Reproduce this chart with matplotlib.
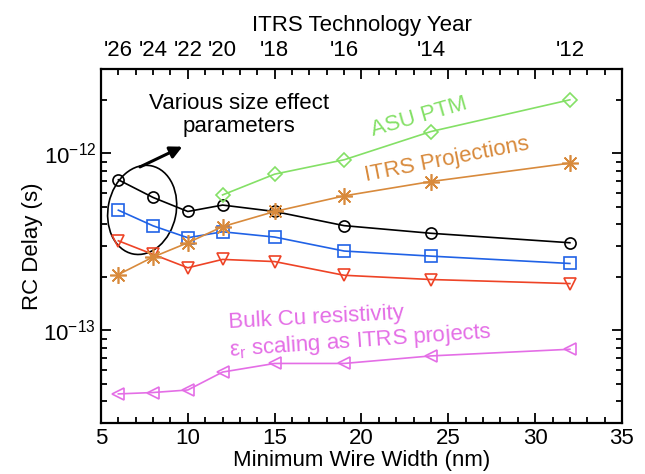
import numpy as np
import matplotlib
matplotlib.use("Agg")
import matplotlib.pyplot as plt
from matplotlib.patches import Ellipse
import matplotlib.transforms as mtransforms

plt.rcParams['font.family'] = ['Liberation Sans', 'DejaVu Sans']
plt.rcParams['mathtext.fontset'] = 'custom'
plt.rcParams['mathtext.rm'] = 'Liberation Sans'
plt.rcParams['mathtext.it'] = 'Liberation Sans:italic'

# wire width (nm) and matching ITRS year
width_nm = [6, 8, 10, 12, 15, 19, 24, 32]
year_labels = ["'26", "'24", "'22", "'20", "'18", "'16", "'14", "'12"]

# RC delay (s)
size_eff_hi = [7.10e-13, 5.64e-13, 4.70e-13, 5.11e-13, 4.70e-13, 3.91e-13, 3.54e-13, 3.13e-13]
size_eff_mid = [4.78e-13, 3.90e-13, 3.34e-13, 3.61e-13, 3.37e-13, 2.81e-13, 2.63e-13, 2.39e-13]
size_eff_lo = [3.21e-13, 2.69e-13, 2.26e-13, 2.52e-13, 2.45e-13, 2.05e-13, 1.94e-13, 1.84e-13]
itrs_proj = [2.07e-13, 2.60e-13, 3.13e-13, 3.86e-13, 4.70e-13, 5.76e-13, 6.94e-13, 8.82e-13]
asu_width = [12, 15, 19, 24, 32]
asu_ptm = [5.83e-13, 7.64e-13, 9.21e-13, 1.33e-12, 2.01e-12]
bulk_cu = [4.38e-14, 4.46e-14, 4.61e-14, 5.82e-14, 6.51e-14, 6.51e-14, 7.18e-14, 7.83e-14]

c_blue = '#2062e6'
c_red = '#ee4326'
c_orange = '#d88a3c'
c_green = '#84e066'
c_mag = '#e46ee6'

fig = plt.figure(figsize=(6.45, 4.74), dpi=100)
ax = fig.add_axes([0.1566, 0.1076, 0.8077, 0.7468])

mk = dict(markerfacecolor='none', markersize=8, markeredgewidth=1.2, linewidth=1.2)
ax.plot(width_nm, size_eff_hi, color='black', marker='o', **mk)
ax.plot(width_nm, size_eff_mid, color=c_blue, marker='s', **mk)
ax.plot(width_nm, size_eff_lo, color=c_red, marker='v', **mk)
ax.plot(width_nm, itrs_proj, color=c_orange, marker=(8, 2, 0), linewidth=1.2,
        markersize=12, markeredgewidth=1.2)
ax.plot(asu_width, asu_ptm, color=c_green, marker='D', **{**mk, 'markersize': 7.5})
ax.plot(width_nm, bulk_cu, color=c_mag, marker='<', **mk)

ax.set_yscale('log')
ax.set_xlim(5, 35)
ax.set_ylim(3e-14, 3e-12)
ax.set_xticks([5, 10, 15, 20, 25, 30, 35])
ax.set_xticks(np.arange(5, 36, 1), minor=True)
ax.tick_params(which='both', direction='in', top=True, right=True, labelsize=16, width=1.3)
ax.tick_params(which='major', length=7)
ax.tick_params(which='minor', length=4)
for s in ax.spines.values():
    s.set_linewidth(1.6)
ax.set_xlabel('Minimum Wire Width (nm)', fontsize=16, labelpad=1)
ax.set_ylabel('RC Delay (s)', fontsize=16, labelpad=0)

# year axis on top
top = ax.secondary_xaxis('top')
top.set_xticks(width_nm)
top.set_xticklabels(year_labels)
top.tick_params(length=0, labelsize=16, pad=6)
top.spines['top'].set_visible(False)
top.set_xlabel('ITRS Technology Year', fontsize=16, labelpad=6)

# annotations
ax.text(0.265, 0.87, 'Various size effect\nparameters', transform=ax.transAxes,
        ha='center', va='center', fontsize=16, linespacing=1.15)
ax.annotate('', xy=(0.161, 0.784), xytext=(0.070, 0.720), xycoords='axes fraction',
            arrowprops=dict(arrowstyle='-|>', color='black', lw=2.2, mutation_scale=18))
ell_tr = fig.dpi_scale_trans + mtransforms.ScaledTranslation(0.079, 0.602, ax.transAxes)
ax.add_patch(Ellipse((0, 0), 0.68, 0.9, angle=-12, transform=ell_tr,
                     fill=False, edgecolor='black', lw=1.2))

ax.text(0.61, 0.865, 'ASU PTM', transform=ax.transAxes, color=c_green,
        fontsize=16, rotation=16, ha='center', va='center')
ax.text(0.665, 0.745, 'ITRS Projections', transform=ax.transAxes, color=c_orange,
        fontsize=16, rotation=11, ha='center', va='center')
ax.text(0.245, 0.285, 'Bulk Cu resistivity', transform=ax.transAxes, color=c_mag,
        fontsize=16, rotation=3, ha='left', va='center', rotation_mode='anchor')
ax.text(0.245, 0.205, r'ε$_\mathrm{r}$ scaling as ITRS projects', transform=ax.transAxes,
        color=c_mag, fontsize=16, rotation=4, ha='left', va='center', rotation_mode='anchor')

fig.savefig('out.png', dpi=100)
